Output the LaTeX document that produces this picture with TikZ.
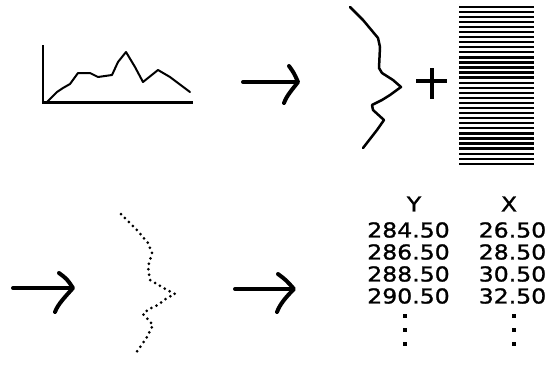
\documentclass[tikz,border=0pt]{standalone}
\usepackage{fontspec}
\setmainfont{DejaVu Sans}
\newfontfamily\numfont[FakeStretch=1.15,RawFeature={embolden=1.2}]{DejaVu Sans}
\begin{document}
\begin{tikzpicture}[x=1pt,y=-1pt,
  ink/.style={line width=2pt,line join=round,line cap=round},
  bigarrow/.style={line width=4pt,line join=round,line cap=round},
  num/.style={font=\numfont\fontsize{20.5}{22}\selectfont,inner sep=0pt,anchor=center},
  dotline/.style={line width=3pt,line cap=round,dash pattern=on 0pt off 5.6pt}]
\useasboundingbox (0,0) rectangle (548,373);
% graph
\draw[line width=2.5pt] (43,45) -- (43,102.5) -- (193,102.5);
\draw[ink] (47,102) -- (57,92) -- (63,88) -- (70,84) -- (78,73) -- (90,73) -- (98,77) -- (112,75) -- (118,62) -- (126,52) -- (135,67) -- (143,82) -- (158,70) -- (170,77) -- (190,92);
% arrow 1
\draw[bigarrow] (243,82) -- (296,82);
\draw[bigarrow] (289,66) .. controls (294,73) .. (298,82) .. controls (292,90) and (287,95) .. (284,103);
% jagged line
\draw[ink,line width=2.5pt] (350,7) -- (363,20) -- (378,38) -- (380,47) -- (379,68) -- (382,73) -- (393,80) -- (401,87) -- (390,95) -- (382,100) -- (372,105) -- (373,110) -- (384,120) -- (377,130) -- (363,148);
% plus
\draw[line width=3.5pt] (416,81) -- (447,81) (432,68) -- (432,99);
% striped block
\foreach \i in {0,...,31} {
  \fill (459,{5.5+\i*5.07}) rectangle (534,{7.8+\i*5.07});
}
% arrow 2 (bottom left)
\draw[bigarrow] (13,288) -- (72,288);
\draw[bigarrow] (59,273) .. controls (67,279) .. (73,288) .. controls (65,297) and (58,304) .. (55,312);
% dotted curve
\draw[dotline] (121,214) -- (137,230) -- (148,243) -- (152,253) -- (148,267) -- (150,280) -- (167,290) -- (175,294) -- (167,298) -- (158,305) -- (149,309) -- (143,314) -- (153,325) -- (147,337) -- (136,353);
% arrow 3
\draw[bigarrow] (235,289) -- (293,289);
\draw[bigarrow] (278,274) .. controls (286,280) .. (294,289) .. controls (286,297) and (280,304) .. (277,312);
% table
\node[num] (hy) at (414,204) {Y};
\node[num] (hx) at (509,204) {X};
\node[num] (y1) at (408.5,230) {284.50};
\node[num] (x1) at (512.5,230) {26.50};
\node[num] (y2) at (408.5,252) {286.50};
\node[num] (x2) at (512.5,252) {28.50};
\node[num] (y3) at (408.5,274) {288.50};
\node[num] (x3) at (512.5,274) {30.50};
\node[num] (y4) at (408.5,296) {290.50};
\node[num] (x4) at (512.5,296) {32.50};
\foreach \yy in {316,330,344} {
  \fill (403,\yy-2) rectangle (407,\yy+2);
  \fill (511.5,\yy-2) rectangle (515.5,\yy+2);
}
\end{tikzpicture}
\end{document}
